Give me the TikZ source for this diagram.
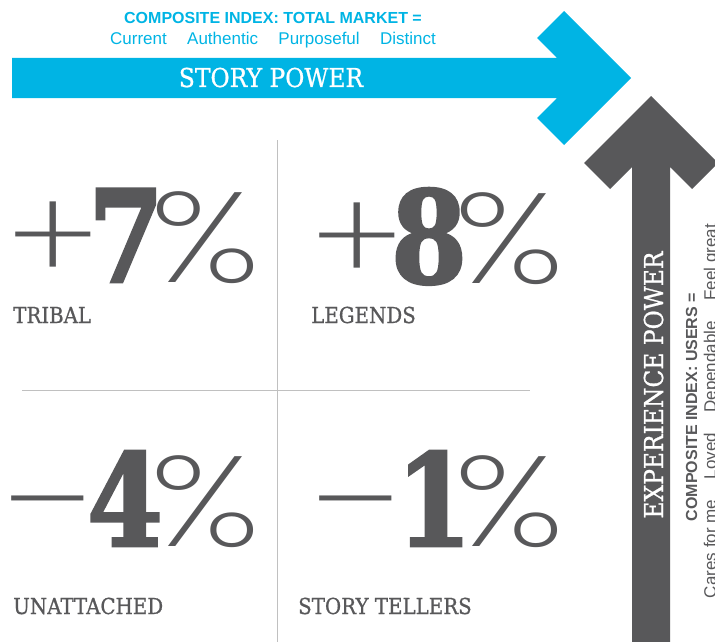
\documentclass[tikz,border=0pt]{standalone}
\usepackage{fontspec}
\setmainfont{Liberation Sans}
\newfontfamily\slab[FakeStretch=0.9,FakeBold=0.8]{DejaVu Serif}
\newfontfamily\slabnum[FakeStretch=0.85,FakeBold=2]{DejaVu Serif}
\newfontfamily\thin[FakeStretch=1.15]{Poppins ExtraLight}
\newfontfamily\thinwide[FakeStretch=1.5]{Poppins ExtraLight}
\newfontfamily\thinpct[FakeStretch=1.25]{Poppins ExtraLight}
\usetikzlibrary{positioning}
\definecolor{storyblue}{RGB}{0,180,228}
\definecolor{expgray}{RGB}{88,88,90}
\definecolor{gridgray}{RGB}{192,192,192}
\tikzset{
  bignum/.style={inner sep=0pt,anchor=base west,text=expgray,font=\slabnum\bfseries\fontsize{128}{128}\selectfont},
  bigsign/.style={inner sep=0pt,anchor=base west,text=expgray,font=\thin\fontsize{128}{128}\selectfont},
  quadlabel/.style={inner sep=0pt,anchor=base west,text=expgray,font=\slab\fontsize{22}{22}\selectfont},
  powerlabel/.style={inner sep=0pt,anchor=base,text=white,font=\slab\fontsize{26}{26}\selectfont},
  indexhead/.style={inner sep=0pt,anchor=base,font=\bfseries\fontsize{16}{16}\selectfont},
  indexwords/.style={inner sep=0pt,anchor=base,font=\fontsize{17}{17}\selectfont},
  gridline/.style={draw=gridgray,line width=0.8pt}
}
\begin{document}
\begin{tikzpicture}[x=1pt,y=-1pt]
\useasboundingbox (0,0) rectangle (715,642);
\clip (0,0) rectangle (715,642);

\fill[storyblue] (12,58) -- (557,58) -- (537,38) -- (564,11) -- (631,78) -- (564,145)
  -- (537,118) -- (557,98) -- (12,98) -- cycle;
\fill[expgray] (632,642) -- (632,167) -- (610,189) -- (584,163) -- (651,96) -- (718,163)
  -- (692,189) -- (670,167) -- (670,642) -- cycle;

\node[indexhead,text=storyblue] (storyhead) at (273,24) {COMPOSITE INDEX: TOTAL MARKET =};
\node[indexwords,text=storyblue] (storywords) at (273,45)
  {Current\hspace{1.2em}Authentic\hspace{1.2em}Purposeful\hspace{1.2em}Distinct};
\node[powerlabel] (story) at (271,87) {STORY POWER};

\node[powerlabel,rotate=90] (experience) at (663,385) {EXPERIENCE POWER};
\node[indexhead,text=expgray,rotate=90] (userhead) at (697,407) {COMPOSITE INDEX: USERS =};
\node[indexwords,text=expgray,rotate=90] (userwords) at (716,411)
  {Cares for me\hspace{1.2em}Loved\hspace{1.2em}Dependable\hspace{1.2em}Feel great};

\draw[gridline] (277,140) -- (277,642);
\draw[gridline] (22,390) -- (530,390);

\foreach \sx/\dx/\px/\by/\sg/\dg/\lx/\lb/\lab [count=\n] in
  {7/88/150/282/+/7/13/323/TRIBAL,
   311/391/454/283/+/8/311/323/LEGENDS,
   1/87/150/546/{\thinwide −}/4/13/614/UNATTACHED,
   309/396/454/546/{\thinwide −}/1/298/614/STORY TELLERS}
{
  \node[bigsign] (sign\n) at (\sx,\by) {\sg};
  \node[bignum] (digit\n) at (\dx,\by) {\dg};
  \node[bigsign,font=\thinpct\fontsize{128}{128}\selectfont] (pct\n) at (\px,\by) {\%};
  \node[quadlabel] (label\n) at (\lx,\lb) {\lab};
}
\end{tikzpicture}
\end{document}
